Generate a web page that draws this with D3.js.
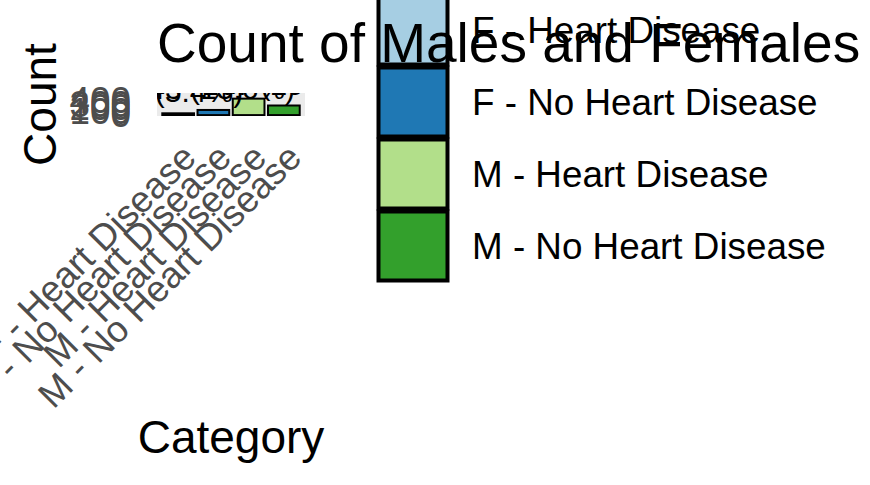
<!DOCTYPE html>
<html>
<head>
<meta charset="utf-8">
<script src="https://cdn.jsdelivr.net/npm/d3@7"></script>
<style>
  html, body { margin: 0; padding: 0; background: #ffffff; }
  svg { display: block; font-family: "Liberation Sans", Arial, Helvetica, sans-serif; }
</style>
</head>
<body>
<svg id="chart" width="870" height="485"></svg>
<script>
// ---- data ----
const categories = ["F - Heart Disease", "F - No Heart Disease", "M - Heart Disease", "M - No Heart Disease"];
const counts = [50, 143, 458, 267];
const percents = ["5.4%", "15.6%", "49.9%", "29.1%"];
const colors = ["#A6CEE3", "#1F78B4", "#B2DF8A", "#33A02C"];
const yTicks = [0, 100, 200, 300, 400];
const titleText = "Count of Males and Females";
const xTitle = "Category";
const yTitle = "Count";

const svg = d3.select("#chart");

// panel geometry
const panel = { left: 157, right: 305, top: 93, bottom: 116 };

const x = d3.scaleBand()
  .domain(categories)
  .range([panel.left, panel.right])
  .paddingInner(0.1)
  .paddingOuter(0.15);

const y = d3.scaleLinear()
  .domain([-25, 615])
  .range([panel.bottom, panel.top]);

// clip
svg.append("defs").append("clipPath").attr("id", "panelClip")
  .append("rect")
  .attr("x", panel.left).attr("y", panel.top)
  .attr("width", panel.right - panel.left)
  .attr("height", panel.bottom - panel.top);

// panel background
svg.append("rect")
  .attr("x", panel.left).attr("y", panel.top)
  .attr("width", panel.right - panel.left)
  .attr("height", panel.bottom - panel.top)
  .attr("fill", "#EBEBEB");

const data = categories.map((c, i) => ({ cat: c, n: counts[i], pct: percents[i], col: colors[i] }));

const g = svg.append("g").attr("clip-path", "url(#panelClip)");

g.selectAll("rect.bar").data(data).enter().append("rect")
  .attr("class", "bar")
  .attr("x", d => x(d.cat))
  .attr("width", x.bandwidth())
  .attr("y", d => y(d.n))
  .attr("height", d => y(0) - y(d.n))
  .attr("fill", d => d.col)
  .attr("stroke", "#000")
  .attr("stroke-width", 2);

g.selectAll("text.lbl").data(data).enter().append("text")
  .attr("class", "lbl")
  .attr("x", d => x(d.cat) + x.bandwidth() / 2)
  .attr("y", d => y(d.n) - 11)
  .attr("text-anchor", "middle")
  .attr("font-size", 30)
  .attr("fill", "#000")
  .text(d => `${d.n} (${d.pct})`);

// y axis tick labels
const yAxis = d3.axisLeft(y).tickValues(yTicks).tickSize(0).tickPadding(26);
const yg = svg.append("g").attr("transform", `translate(${panel.left},0)`).call(yAxis);
yg.select(".domain").remove();
yg.selectAll("text")
  .attr("font-size", 36.8)
  .attr("fill", "#4D4D4D")
  .attr("font-family", "Liberation Sans, Arial, sans-serif");

// x axis tick labels (rotated 45)
const xAxis = d3.axisBottom(x).tickSize(0).tickPadding(0);
const xg = svg.append("g").attr("transform", `translate(0,${panel.bottom})`).call(xAxis);
xg.select(".domain").remove();
xg.selectAll("text")
  .attr("font-size", 36.8)
  .attr("fill", "#4D4D4D")
  .attr("font-family", "Liberation Sans, Arial, sans-serif")
  .attr("text-anchor", "end")
  .attr("x", 0).attr("y", 0)
  .attr("dy", "0.72em")
  .attr("transform", "translate(1,25) rotate(-45)");

// axis titles
svg.append("text")
  .attr("x", (panel.left + panel.right) / 2)
  .attr("y", 453)
  .attr("text-anchor", "middle")
  .attr("font-size", 46)
  .attr("fill", "#000")
  .text(xTitle);

svg.append("text")
  .attr("transform", `translate(56,${(panel.top + panel.bottom) / 2}) rotate(-90)`)
  .attr("text-anchor", "middle")
  .attr("font-size", 46)
  .attr("fill", "#000")
  .text(yTitle);

// legend
const keySize = 69, keyStep = 72, keyX = 378.5, keyTop0 = -4.5;
const lg = svg.append("g");
lg.selectAll("rect.key").data(data).enter().append("rect")
  .attr("class", "key")
  .attr("x", keyX)
  .attr("y", (d, i) => keyTop0 + i * keyStep)
  .attr("width", keySize)
  .attr("height", keySize)
  .attr("fill", d => d.col)
  .attr("stroke", "#000")
  .attr("stroke-width", 4);
lg.selectAll("text.lt").data(data).enter().append("text")
  .attr("class", "lt")
  .attr("x", 472)
  .attr("y", (d, i) => keyTop0 + i * keyStep + keySize / 2 + 13)
  .attr("font-size", 36.8)
  .attr("fill", "#000")
  .text(d => d.cat);

// title (drawn on top)
svg.append("text")
  .attr("x", 157)
  .attr("y", 62)
  .attr("font-size", 55)
  .attr("fill", "#000")
  .text(titleText);
</script>
</body>
</html>
